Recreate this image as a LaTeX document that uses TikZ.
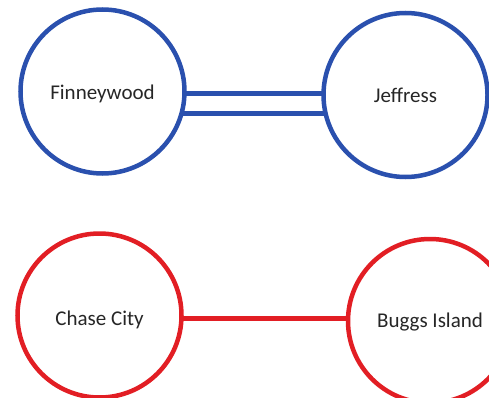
\documentclass[tikz,border=0pt]{standalone}
\usepackage{fontspec}
\setmainfont{Carlito}
\usetikzlibrary{backgrounds}
\definecolor{lineblue}{RGB}{42,80,174}
\definecolor{linered}{RGB}{226,30,36}
\tikzset{
  town/.style={circle, draw, fill=white, line width=4.5pt, minimum size=164pt, inner sep=0pt,
    font=\fontsize{21}{25}\selectfont, text=black!85, text depth=3pt},
  bluetown/.style={town, draw=lineblue},
  redtown/.style={town, draw=linered},
  blueline/.style={draw=lineblue, line width=5pt},
  redline/.style={draw=linered, line width=5pt},
}
\begin{document}
\begin{tikzpicture}[x=1pt, y=-1pt]
\useasboundingbox (0,0) rectangle (489,398);
\clip (0,0) rectangle (489,398);
\node[bluetown, text height=20pt] (F) at (102.5,91.5) {Finneywood};
\node[bluetown, text height=18.5pt] (J) at (405.5,95) {Jeffress};
\node[redtown, text height=22pt] (C) at (99.5,315.5) {Chase City};
\node[redtown, text height=15pt] (B) at (430,321) {Buggs Island};
\begin{pgfonlayer}{background}
\draw[blueline] ([yshift=-2.5pt]F.center) -- ([yshift=1pt]J.center);
\draw[blueline] ([yshift=-22.5pt]F.center) -- ([yshift=-19pt]J.center);
\draw[redline] ([yshift=-3pt]C.center) -- ([yshift=2.5pt]B.center);
\end{pgfonlayer}
\end{tikzpicture}
\end{document}
